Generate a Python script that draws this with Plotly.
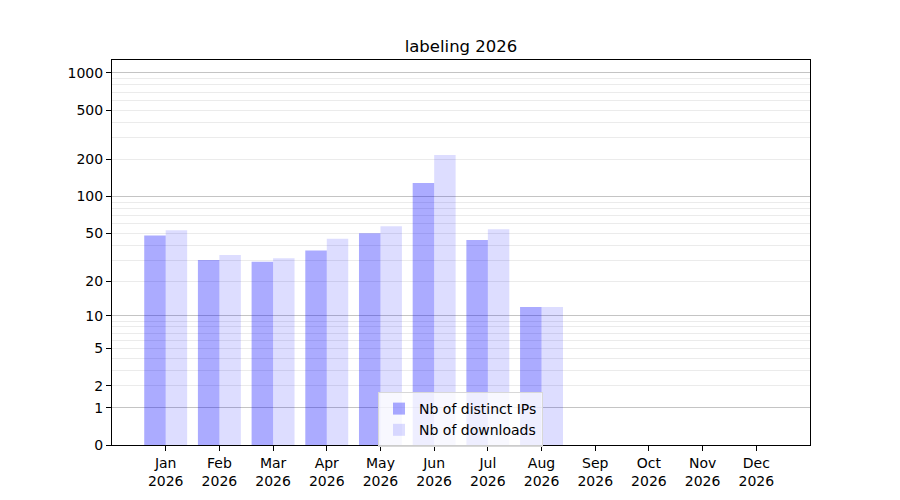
import numpy as np
import plotly.graph_objects as go

months = ["Jan", "Feb", "Mar", "Apr", "May", "Jun", "Jul", "Aug", "Sep", "Oct", "Nov", "Dec"]
year = "2026"
distinct_ips = [48, 30, 29, 36, 50, 129, 44, 12, None, None, None, None]
downloads = [53, 33, 31, 45, 57, 217, 54, 12, None, None, None, None]

tick_values = [0, 1, 2, 5, 10, 20, 50, 100, 200, 500, 1000]
major_grid = [1, 10, 100, 1000]
minor_grid = [m * d for d in (1, 10, 100) for m in range(2, 10)]


def tr(vals):
    # y = log10(1 + v) scale, like the original chart
    return [None if v is None else np.log10(1 + v) for v in vals]


labels = [f"{m}<br>{year}" for m in months]
xpos = list(range(len(months)))

fig = go.Figure()
fig.add_trace(go.Bar(x=xpos, y=tr(distinct_ips), name="Nb of distinct IPs",
                     marker=dict(color="rgba(0,0,255,0.33)", line=dict(width=0))))
fig.add_trace(go.Bar(x=xpos, y=tr(downloads), name="Nb of downloads",
                     marker=dict(color="rgba(0,0,255,0.134)", line=dict(width=0))))

yrange = [0, 3.105]
font = dict(family="DejaVu Sans", size=14, color="black")

# page body adds an 8px offset, margins compensate for it
fig.update_layout(
    width=900, height=500,
    margin=dict(l=104, r=98, t=52, b=63),
    plot_bgcolor="white", paper_bgcolor="white",
    font=font,
    barmode="group", bargap=0.2, bargroupgap=0,
    title=dict(text="labeling 2026", x=0.5, xref="paper", xanchor="center",
               y=1 - 38 / 500, yanchor="middle", font=dict(size=16.5)),
    xaxis=dict(tickmode="array", tickvals=xpos, ticktext=labels, range=[-1, 12],
               showgrid=False, zeroline=False, showline=True, linecolor="black",
               mirror=True, ticks="outside", ticklen=5, tickcolor="black"),
    yaxis=dict(range=yrange, tickmode="array", tickvals=tr(tick_values),
               ticktext=[str(v) for v in tick_values], showgrid=False, zeroline=False,
               showline=True, linecolor="black", mirror=True, ticks="outside",
               ticklen=5, tickcolor="black",
               minor=dict(tickmode="array", tickvals=tr(minor_grid), showgrid=True,
                          gridcolor="#ebebeb", gridwidth=1, ticks="")),
    yaxis2=dict(range=yrange, overlaying="y", side="left", tickmode="array",
                tickvals=tr(major_grid), showticklabels=False, ticks="",
                showgrid=True, gridcolor="#c4c4c4", gridwidth=1,
                zeroline=False, showline=False),
    legend=dict(x=(378 - 112) / 698, y=(445 - 392) / 385, xanchor="left", yanchor="top",
                bgcolor="rgba(255,255,255,0.8)", bordercolor="#d8d8d8", borderwidth=1,
                font=dict(size=14), itemwidth=30, tracegroupgap=0),
)

# invisible trace so the second axis (major grid) is drawn
fig.add_trace(go.Scatter(x=[None], y=[None], yaxis="y2", showlegend=False, hoverinfo="skip"))

fig.write_html("out.html")
